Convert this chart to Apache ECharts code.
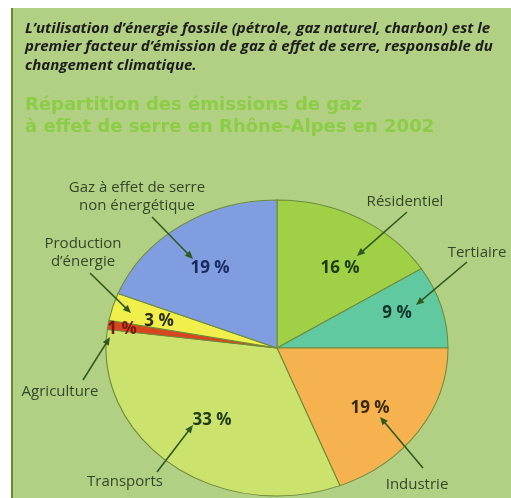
<!DOCTYPE html>
<html>
<head>
<meta charset="utf-8">
<script src="https://cdn.jsdelivr.net/npm/echarts@6/dist/echarts.min.js"></script>
<style>
html,body{margin:0;padding:0;background:#fff;}
#chart{width:511px;height:498px;}
</style>
</head>
<body>
<div id="chart"></div>
<script>
// ---- data ----
const categories = ['Résidentiel', 'Tertiaire', 'Industrie', 'Transports', 'Agriculture', 'Production\nd’énergie', 'Gaz à effet de serre\nnon énergétique'];
const values = [16, 9, 19, 33, 1, 3, 19];
const introText = 'L’utilisation d’énergie fossile (pétrole, gaz naturel, charbon) est le\npremier facteur d’émission de gaz à effet de serre, responsable du\nchangement climatique.';
const titleText = 'Répartition des émissions de gaz\nà effet de serre en Rhône-Alpes en 2002';

// ---- styles & layout ----
const sliceColors = ['#9fd045', '#60c9a0', '#f6b24e', '#cbe26c', '#d8461f', '#f1ef4c', '#7f9ddf'];
const pctColors = ['#1f3a17', '#12322a', '#3a2a0c', '#1f3a17', '#7a1a0c', '#2c2a0a', '#182a5e'];
const pie = { cx: 277, cy: 348, rx: 171, ry: 148 };
const layout = [
  { pct: [340, 268], name: [405, 202], arrow: [407, 212, 357, 256] },
  { pct: [397, 313], name: [477, 253], arrow: [467, 262, 416, 305] },
  { pct: [370, 408], name: [417, 485], arrow: [423, 468, 380, 417] },
  { pct: [212, 420], name: [125, 482], arrow: [157, 472, 193, 425] },
  { pct: [122, 329], name: [60, 392],  arrow: [83, 380, 110, 337] },
  { pct: [159, 321], name: [83, 253],  arrow: [90, 273, 131, 313] },
  { pct: [210, 268], name: [137, 197], arrow: [152, 217, 193, 259] }
];
const arrowColor = '#2f5a1f';

function arrowHead(x1, y1, x2, y2) {
  const dx = x2 - x1, dy = y2 - y1, L = Math.sqrt(dx * dx + dy * dy);
  const ux = dx / L, uy = dy / L, len = 8, w = 3.5;
  const bx = x2 - ux * len, by = y2 - uy * len;
  return [[x2, y2], [bx - uy * w, by + ux * w], [bx + uy * w, by - ux * w]];
}

function renderItem(params, api) {
  const i = params.dataIndex;
  const v = api.value(0);
  const total = values.reduce((a, b) => a + b, 0);
  let before = 0;
  for (let j = 0; j < i; j++) before += values[j];
  const a0 = -Math.PI / 2 + before / total * Math.PI * 2;
  const a1 = a0 + v / total * Math.PI * 2;
  const R = 160;
  const L = layout[i];
  const ar = L.arrow;
  const len = Math.hypot(ar[2] - ar[0], ar[3] - ar[1]);
  const lineEnd = [ar[2] - (ar[2] - ar[0]) / len * 6, ar[3] - (ar[3] - ar[1]) / len * 6];
  return {
    type: 'group',
    children: [
      {
        type: 'sector',
        x: pie.cx, y: pie.cy, scaleX: pie.rx / R, scaleY: pie.ry / R,
        shape: { cx: 0, cy: 0, r0: 0, r: R, startAngle: a0, endAngle: a1, clockwise: true },
        style: { fill: sliceColors[i], stroke: '#6d8b3b', lineWidth: 1, strokeNoScale: true },
        z2: 1
      },
      {
        type: 'line',
        shape: { x1: ar[0], y1: ar[1], x2: lineEnd[0], y2: lineEnd[1] },
        style: { stroke: arrowColor, lineWidth: 1.6 },
        z2: 20
      },
      {
        type: 'polygon',
        shape: { points: arrowHead(ar[0], ar[1], ar[2], ar[3]) },
        style: { fill: arrowColor },
        z2: 20
      },
      {
        type: 'text',
        x: L.pct[0], y: L.pct[1],
        style: { text: v + ' %', fill: pctColors[i], font: 'bold 17px "Open Sans"', align: 'center', verticalAlign: 'middle' },
        z2: 30
      },
      {
        type: 'text',
        x: L.name[0], y: L.name[1],
        style: { text: categories[i], fill: '#34462a', font: '15px "Open Sans"', align: 'center', verticalAlign: 'middle', lineHeight: 18 },
        z2: 30
      }
    ]
  };
}

const chart = echarts.init(document.getElementById('chart'), null, { renderer: 'canvas' });
chart.setOption({
  backgroundColor: '#ffffff',
  animation: false,
  graphic: [
    { type: 'rect', z: -10, shape: { x: 11, y: 8, width: 500, height: 490 }, style: { fill: '#b2d083' } },
    { type: 'rect', z: -9, shape: { x: 11, y: 8, width: 2, height: 490 }, style: { fill: '#5d8f30' } }
  ],
  title: [
    {
      text: introText, left: 25, top: 19, padding: 0,
      textStyle: { fontFamily: 'Open Sans', fontStyle: 'italic', fontWeight: 'bold', fontSize: 15, lineHeight: 18.5, color: '#1c1c1c' }
    },
    {
      text: titleText, left: 25, top: 95, padding: 0,
      textStyle: { fontFamily: 'DejaVu Sans', fontWeight: 'bold', fontSize: 18, lineHeight: 21.5, color: '#8ccd46' }
    }
  ],
  series: [{
    type: 'custom',
    coordinateSystem: 'none',
    renderItem: renderItem,
    data: values.map((v, i) => ({ name: categories[i], value: [v] }))
  }]
});
</script>
</body>
</html>
